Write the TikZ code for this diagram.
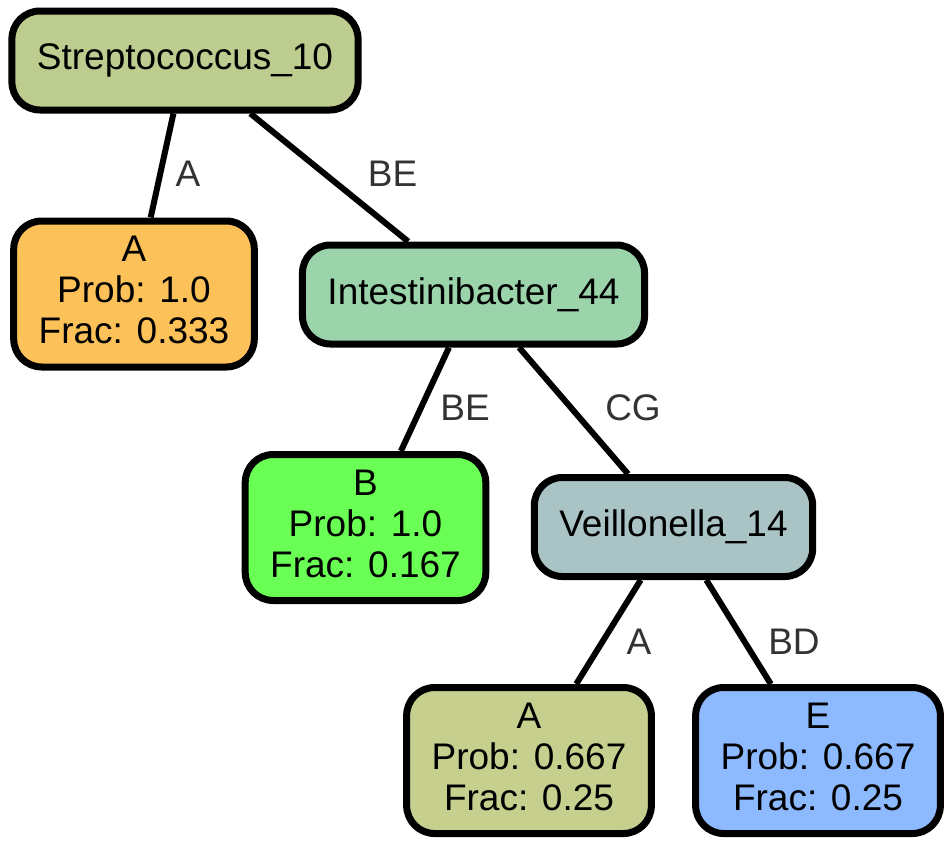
\documentclass[tikz,border=0pt]{standalone}
\usepackage{fontspec}
\setmainfont{Liberation Sans}
\usepackage{tikz}
\definecolor{strepgreen}{HTML}{BDCD8F}
\definecolor{leaforange}{HTML}{FDC15A}
\definecolor{intestgreen}{HTML}{9BD3AB}
\definecolor{leafgreen}{HTML}{6AFF55}
\definecolor{veilgray}{HTML}{AAC4C6}
\definecolor{leafolive}{HTML}{C6CF8E}
\definecolor{leafblue}{HTML}{8DB9FF}
\definecolor{labelgray}{HTML}{333333}

\begin{document}
\begin{tikzpicture}[x=1pt, y=-1pt,
    taxonbox/.style={draw=black, line width=7pt, rounded corners=28pt, align=center,
      font=\fontsize{37}{41}\selectfont, inner xsep=25pt, inner ysep=4pt, minimum height=99pt},
    leafbox/.style={taxonbox, minimum height=146pt, minimum width=236pt, text depth=8pt},
    link/.style={line width=6pt},
    lbl/.style={text=labelgray, font=\fontsize{37}{41}\selectfont, inner sep=0pt}]
        \useasboundingbox (0,0) rectangle (949,846);
        % Define nodes
        \node[taxonbox, fill=strepgreen] (strep) at (185,60.5) {Streptococcus\_10};
        \node[leafbox, fill=leaforange] (leafA1) at (134,294) {A\\Prob: 1.0\\Frac: 0.333};
        \node[taxonbox, fill=intestgreen] (intest) at (473.5,294.5) {Intestinibacter\_44};
        \node[leafbox, fill=leafgreen] (leafB) at (365.5,527.5) {B\\Prob: 1.0\\Frac: 0.167};
        \node[taxonbox, fill=veilgray] (veil) at (673.5,527) {Veillonella\_14};
        \node[leafbox, fill=leafolive] (leafA2) at (529,760.5) {A\\Prob: 0.667\\Frac: 0.25};
        \node[leafbox, fill=leafblue] (leafE) at (818,760.5) {E\\Prob: 0.667\\Frac: 0.25};
        % Draw edges
        \draw[link] (strep) -- (leafA1);
        \draw[link] (strep) -- (intest);
        \draw[link] (intest) -- (leafB);
        \draw[link] (intest) -- (veil);
        \draw[link] (veil) -- (leafA2);
        \draw[link] (veil) -- (leafE);
        % Label the edges
        \node[lbl] (lblA1) at (188,174) {A};
        \node[lbl] (lblBE1) at (392.5,174) {BE};
        \node[lbl] (lblBE2) at (465,407.5) {BE};
        \node[lbl] (lblCG) at (633,407.5) {CG};
        \node[lbl] (lblA2) at (639,641.5) {A};
        \node[lbl] (lblBD) at (794,641.5) {BD};
\end{tikzpicture}
\end{document}
